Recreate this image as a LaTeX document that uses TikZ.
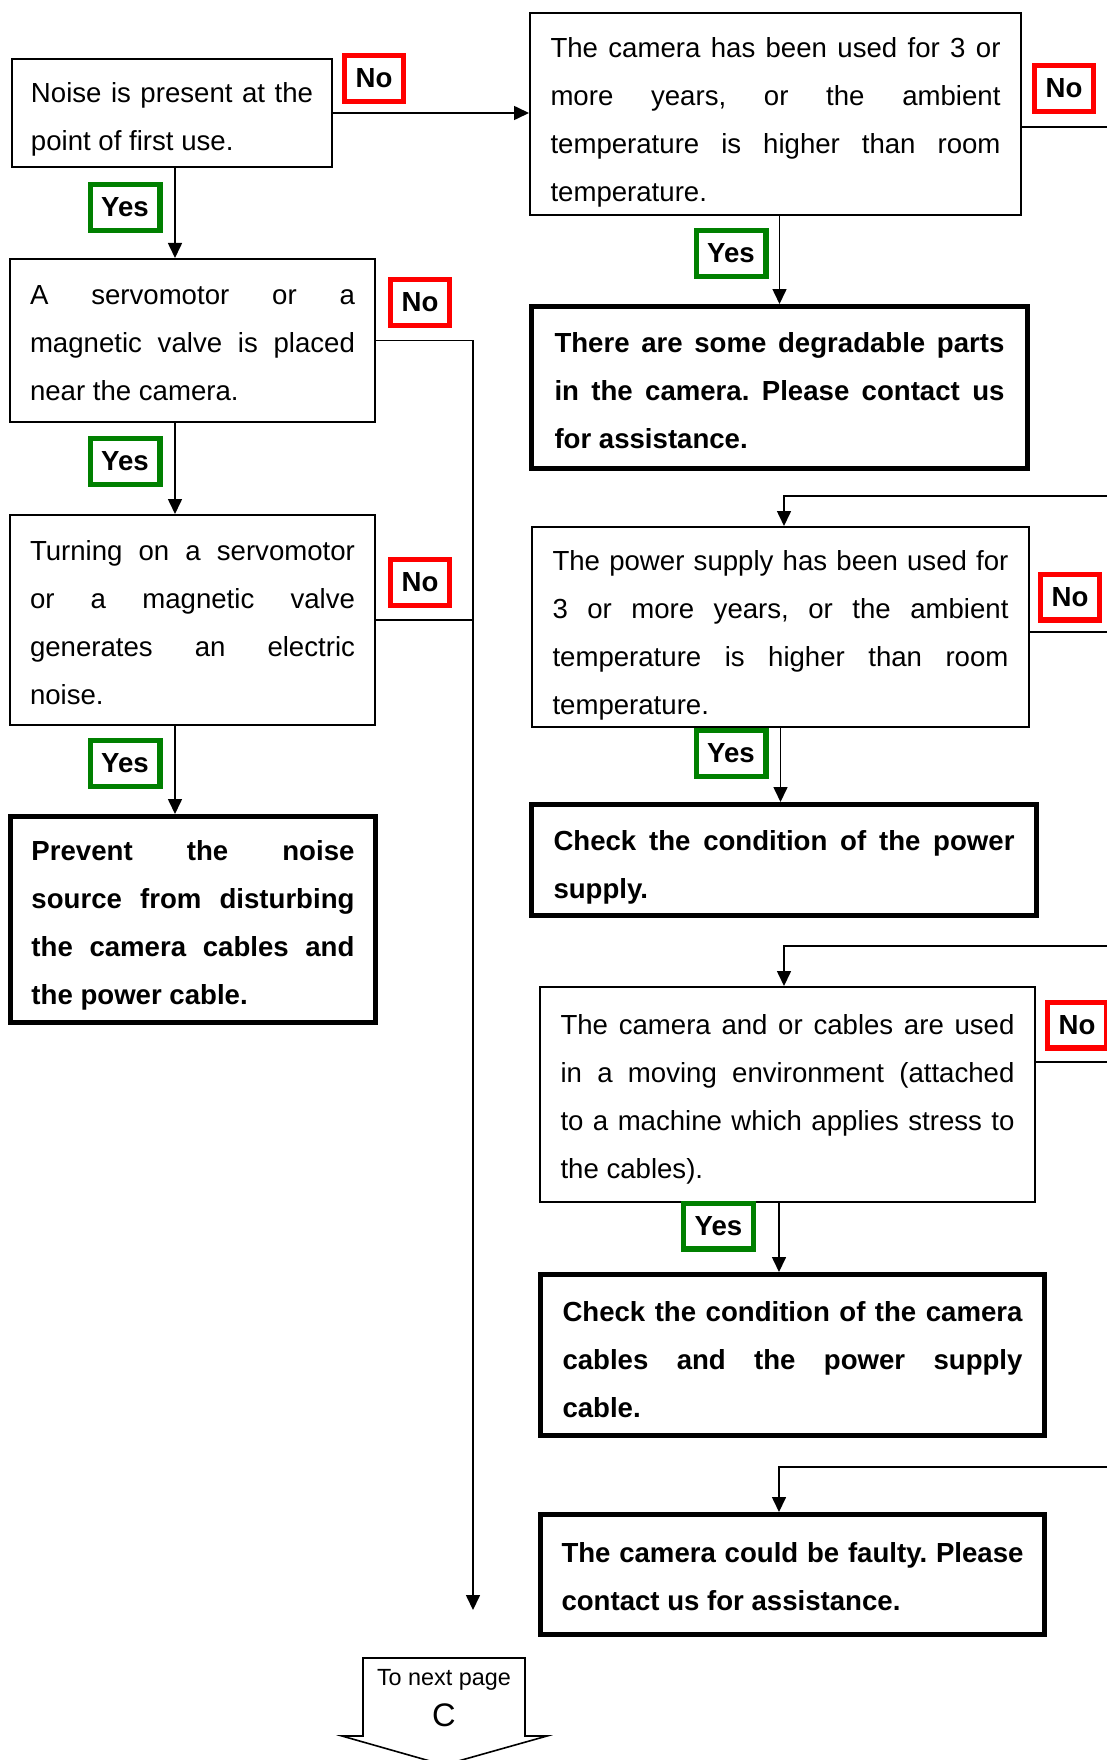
\documentclass[tikz,border=0pt]{standalone}
\usepackage{fontspec}
\setmainfont{Liberation Sans}
\usepackage{tikz}
\usetikzlibrary{arrows.meta}
\usetikzlibrary{positioning}
\newcommand{\boxfont}{\fontsize{13.8pt}{24pt}\selectfont}
\tolerance=10000
\hbadness=10000
\hyphenpenalty=10000
\frenchspacing
\tikzset{toppad/.style={execute at begin node={\rule{0pt}{#1}}}}
\tikzstyle{question} = [rectangle, draw=black, line width=0.8pt, inner xsep=0pt, inner ysep=0pt, align=justify, font=\boxfont, toppad=16pt, execute at end node={\rule[-4pt]{0pt}{4pt}}]
\tikzstyle{answer} = [rectangle, draw=black, line width=2.6pt, inner xsep=0pt, inner ysep=0pt, align=justify, font=\boxfont\bfseries, toppad=16pt, execute at end node={\rule[-4pt]{0pt}{4pt}}]
\tikzstyle{yeslabel} = [rectangle, draw=green!50!black, line width=2.6pt, minimum width=34.9pt, minimum height=22.9pt, inner sep=0pt, font=\boxfont\bfseries]
\tikzstyle{nolabel} = [rectangle, draw=red, line width=2.6pt, minimum width=29.4pt, minimum height=22.9pt, inner sep=0pt, font=\boxfont\bfseries]
\tikzstyle{link} = [line width=0.8pt]
\tikzstyle{arrow} = [line width=0.8pt,-{Triangle[length=7.5pt,width=7pt]}]

\begin{document}
\begin{tikzpicture}[node distance=120pt]
        \useasboundingbox (0pt,0pt) rectangle (553.5pt,-880pt);
        % left column
        \node (noise) [question, toppad=17.4pt, minimum width=160.2pt, minimum height=54.2pt, text width=141pt] at (86pt,-56.5pt) {Noise is present at the\linebreak point of first use.};
        \node (servo) [question, toppad=14.6pt, below of=noise, xshift=10.25pt, yshift=6.25pt, minimum width=182.7pt, minimum height=81.7pt, text width=162.5pt] {A servomotor or a\linebreak magnetic valve is placed\linebreak near the camera.};
        \node (turning) [question, toppad=15.7pt, below of=servo, yshift=-19.75pt, minimum width=182.7pt, minimum height=105.2pt, text width=162.5pt] {Turning on a servomotor\linebreak or a magnetic valve\linebreak generates an electric\linebreak noise.};
        \node (prevent) [answer, toppad=17.4pt, below of=turning, xshift=0.25pt, yshift=-29.75pt, minimum width=182.4pt, minimum height=102.9pt, text width=161.5pt] {Prevent the noise\linebreak source from disturbing\linebreak the camera cables and\linebreak the power cable.};

        % right column
        \node (oldcam) [question, toppad=19.6pt, right of=noise, xshift=181.75pt, yshift=-0.5pt, minimum width=245.7pt, minimum height=101.2pt, text width=225pt] {The camera has been used for 3 or\linebreak more years, or the ambient\linebreak temperature is higher than room\linebreak temperature.};
        \node (parts) [answer, toppad=17.4pt, below of=oldcam, xshift=2pt, yshift=-16.75pt, minimum width=247.9pt, minimum height=80.9pt, text width=225pt] {There are some degradable parts\linebreak in the camera. Please contact us\linebreak for assistance.};
        \node (oldpsu) [question, toppad=19.6pt, below of=parts, xshift=0.5pt, yshift=0.25pt, minimum width=248.7pt, minimum height=100.2pt, text width=228pt] {The power supply has been used for\linebreak 3 or more years, or the ambient\linebreak temperature is higher than room\linebreak temperature.};
        \node (checkpsu) [answer, toppad=18.5pt, below of=oldpsu, xshift=1.75pt, yshift=3.5pt, minimum width=252.4pt, minimum height=55.4pt, text width=230.5pt] {Check the condition of the power\linebreak supply.};
        \node (moving) [question, toppad=11.9pt, below of=checkpsu, xshift=1.75pt, yshift=2.75pt, minimum width=247.7pt, minimum height=107.7pt, text width=227pt] {The camera and or cables are used\linebreak in a moving environment (attached\linebreak to a machine which applies stress to\linebreak the cables).};
        \node (checkcab) [answer, toppad=18pt, below of=moving, xshift=2.5pt, yshift=-10.25pt, minimum width=251.9pt, minimum height=80.4pt, text width=230pt] {Check the condition of the camera\linebreak cables and the power supply\linebreak cable.};
        \node (faulty) [answer, toppad=15.1pt, below of=checkcab, yshift=10.25pt, minimum width=251.9pt, minimum height=59.9pt, text width=231pt] {The camera could be faulty. Please\linebreak contact us for assistance.};

        % yes / no tags
        \node (yesA) [yeslabel] at (62.5pt,-103.75pt) {Yes};
        \node (yesB) [yeslabel] at (62.5pt,-230.75pt) {Yes};
        \node (yesC) [yeslabel] at (62.5pt,-381.75pt) {Yes};
        \node (noA) [nolabel] at (187pt,-39.25pt) {No};
        \node (noB) [nolabel] at (210pt,-151.25pt) {No};
        \node (noC) [nolabel] at (210pt,-291.25pt) {No};
        \node (yesD) [yeslabel] at (365.5pt,-126.75pt) {Yes};
        \node (yesE) [yeslabel] at (365.5pt,-376.75pt) {Yes};
        \node (yesF) [yeslabel] at (359.25pt,-613pt) {Yes};
        \node (noD) [nolabel] at (532pt,-44.25pt) {No};
        \node (noE) [nolabel] at (535pt,-298.5pt) {No};
        \node (noF) [nolabel] at (538.5pt,-512.5pt) {No};

        % helper points
        \coordinate (edge) at (556pt,0pt);
        \coordinate (drop) at (236.5pt,-805pt);
        \coordinate (trunk) at ([xshift=1.5pt]noise.south);
        \coordinate (camno) at ([yshift=-6.5pt]oldcam.east);
        \coordinate (psuno) at ([yshift=-2.5pt]oldpsu.east);
        \coordinate (movno) at ([yshift=16.25pt]moving.east);
        \coordinate (psuin) at ([xshift=1.75pt,yshift=15pt]oldpsu.north);
        \coordinate (movin) at ([xshift=-1.75pt,yshift=20pt]moving.north);
        \coordinate (movyes) at ([xshift=-4.25pt]moving.south);
        \coordinate (faultin) at ([xshift=-6.75pt,yshift=22.5pt]faulty.north);

        \draw [arrow] (noise.east) -- (noise.east -| oldcam.west);
        \draw [arrow] (trunk) -- (trunk |- servo.north);
        \draw [arrow] (trunk |- servo.south) -- (trunk |- turning.north);
        \draw [arrow] (trunk |- turning.south) -- (trunk |- prevent.north);
        \draw [arrow] (servo.east) -| (drop);
        \draw [link] (turning.east) -- (turning.east -| drop);

        \draw [arrow] (parts.north |- oldcam.south) -- (parts.north);
        \draw [link] (camno) -- (camno -| edge);
        \draw [arrow] (psuin -| edge) -- (psuin) -- (psuin |- oldpsu.north);
        \draw [link] (psuno) -- (psuno -| edge);
        \draw [arrow] (oldpsu.south) -- (oldpsu.south |- checkpsu.north);
        \draw [arrow] (movin -| edge) -- (movin) -- (movin |- moving.north);
        \draw [link] (movno) -- (movno -| edge);
        \draw [arrow] (movyes) -- (movyes |- checkcab.north);
        \draw [arrow] (faultin -| edge) -- (faultin) -- (faultin |- faulty.north);

        % off-page connector
        \draw [link] (181.5pt,-829pt) -- (262.5pt,-829pt) -- (262.5pt,-868pt) -- (273.5pt,-868pt) -- (222pt,-882.5pt) -- (171pt,-868pt) -- (181.5pt,-868pt) -- cycle;
        \node (nexttext) [anchor=base, font=\fontsize{11.7pt}{14pt}\selectfont, inner sep=0pt] at (222pt,-842.5pt) {To next page};
        \node (nextC) [anchor=base, font=\fontsize{16.3pt}{19pt}\selectfont, inner sep=0pt] at (222pt,-863pt) {C};
    \end{tikzpicture}
\end{document}
